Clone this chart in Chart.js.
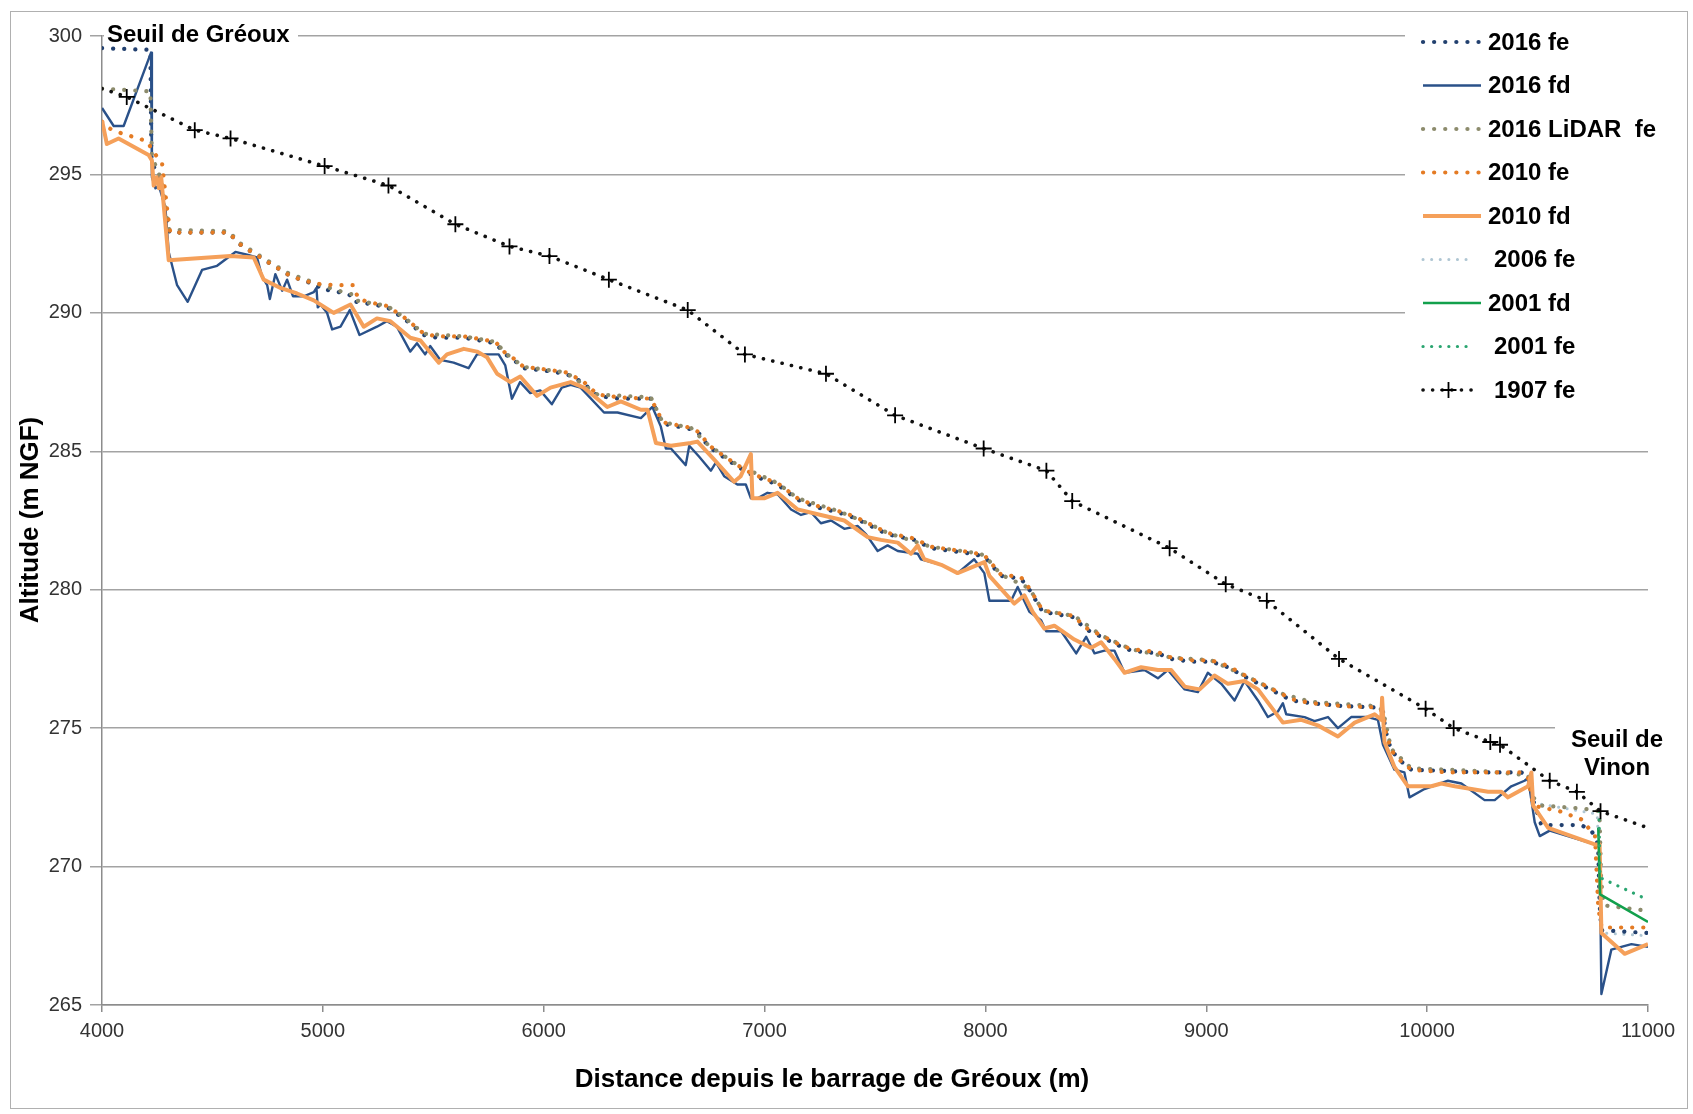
<!DOCTYPE html>
<html>
<head>
<meta charset="utf-8">
<script src="https://cdn.jsdelivr.net/npm/chart.js@4.4.1/dist/chart.umd.min.js"></script>
<style>
html,body{margin:0;padding:0;background:#fff;}
#wrap{width:1693px;height:1114px;position:relative;}
canvas{display:block;}
</style>
</head>
<body>
<div id="wrap"><canvas id="c" width="1693" height="1114"></canvas></div>
<script>
// ---------------- DATA (distance m, altitude m NGF) ----------------
const seriesLabels = ['2016 fe','2016 fd','2016 LiDAR  fe','2010 fe','2010 fd','2006 fe','2001 fd','2001 fe','1907 fe'];
const xTickLabels = ['4000','5000','6000','7000','8000','9000','10000','11000'];
const yTickLabels = ['265','270','275','280','285','290','295','300'];
const annotationTexts = ['Seuil de Gréoux', 'Seuil de', 'Vinon'];
const xTitle = 'Distance depuis le barrage de Gréoux (m)';
const yTitle = 'Altitude (m NGF)';

const fe2016 = [[4000,299.56],[4219,299.5],[4224,295.4],[4250,295.1],[4272,294.6],[4290,293.5],[4305,292.9],[4430,292.9],[4574,292.9],[4619,292.5],[4657,292.3],[4717,292.0],[4778,291.7],[4838,291.4],[4898,291.2],[4974,291.0],[4989,290.85],[5049,290.8],[5140,290.6],[5148,290.4],[5231,290.3],[5291,290.2],[5328,290.0],[5366,289.8],[5412,289.5],[5457,289.2],[5517,289.1],[5638,289.1],[5714,289.0],[5782,288.9],[5826,288.5],[5864,288.3],[5909,288.0],[6015,287.9],[6100,287.8],[6175,287.5],[6243,287.0],[6340,286.9],[6485,286.9],[6515,286.4],[6538,286.0],[6666,285.8],[6711,285.6],[6742,285.2],[6794,284.9],[6877,284.45],[6953,284.1],[7059,283.8],[7150,283.25],[7225,283.0],[7331,282.8],[7406,282.6],[7482,282.3],[7557,282.0],[7678,281.8],[7754,281.5],[7845,281.4],[7936,281.3],[7995,281.2],[8070,280.5],[8161,280.4],[8199,280.0],[8259,279.2],[8403,279.0],[8448,278.6],[8524,278.3],[8599,278.0],[8660,277.8],[8781,277.7],[8841,277.5],[8932,277.4],[9022,277.4],[9098,277.2],[9188,276.8],[9264,276.5],[9339,276.2],[9385,276.0],[9475,275.9],[9611,275.8],[9762,275.75],[9800,275.6],[9812,274.9],[9837,274.2],[9882,273.8],[9928,273.5],[10094,273.45],[10245,273.4],[10427,273.4],[10457,273.2],[10480,272.4],[10517,271.5],[10698,271.5],[10744,271.3],[10774,270.8],[10781,268.6],[10789,267.7],[11000,267.6]];

const fd2016 = [[4000,297.4],[4053,296.75],[4098,296.75],[4222,299.4],[4226,294.9],[4242,294.5],[4257,294.6],[4287,293.8],[4302,292.2],[4340,291.0],[4388,290.4],[4453,291.55],[4521,291.7],[4604,292.2],[4657,292.1],[4702,292.0],[4725,291.3],[4748,291.0],[4760,290.5],[4785,291.4],[4816,290.8],[4838,291.2],[4865,290.6],[4914,290.6],[4959,290.75],[4971,290.9],[4977,290.2],[4989,290.3],[5019,290.0],[5042,289.4],[5080,289.5],[5122,290.1],[5166,289.2],[5245,289.5],[5290,289.7],[5335,289.5],[5396,288.6],[5426,288.9],[5463,288.5],[5486,288.8],[5532,288.3],[5592,288.2],[5660,288.0],[5698,288.5],[5758,288.5],[5796,288.5],[5826,288.1],[5856,286.9],[5893,287.5],[5939,287.1],[5984,287.2],[6037,286.7],[6082,287.3],[6122,287.4],[6167,287.3],[6273,286.4],[6334,286.4],[6440,286.2],[6492,286.6],[6530,285.9],[6553,285.1],[6576,285.1],[6643,284.5],[6659,285.2],[6704,284.8],[6757,284.3],[6780,284.6],[6817,284.1],[6877,283.8],[6915,283.8],[6938,283.3],[6968,283.3],[7013,283.5],[7059,283.45],[7120,282.9],[7165,282.7],[7210,282.8],[7255,282.4],[7301,282.5],[7361,282.2],[7422,282.3],[7460,282.0],[7512,281.4],[7557,281.6],[7603,281.4],[7693,281.3],[7708,281.1],[7800,280.9],[7874,280.6],[7949,281.1],[7995,280.6],[8018,279.6],[8116,279.6],[8146,280.1],[8199,279.2],[8252,278.9],[8275,278.5],[8343,278.5],[8411,277.7],[8456,278.3],[8494,277.7],[8539,277.8],[8584,277.8],[8630,277.0],[8720,277.1],[8781,276.8],[8826,277.1],[8902,276.4],[8962,276.3],[9007,277.0],[9068,276.6],[9128,276.0],[9173,276.7],[9234,276.0],[9279,275.4],[9324,275.6],[9347,275.9],[9362,275.5],[9445,275.4],[9490,275.25],[9551,275.4],[9596,275.0],[9656,275.4],[9732,275.4],[9777,275.3],[9800,274.4],[9852,273.5],[9897,273.4],[9920,272.5],[9988,272.8],[10094,273.1],[10155,273.0],[10260,272.4],[10306,272.4],[10381,272.9],[10441,273.1],[10457,273.2],[10487,271.6],[10510,271.1],[10555,271.3],[10759,270.8],[10781,270.7],[10789,265.4],[10834,267.0],[10925,267.2],[11000,267.1]];

const lidar2016 = [[4000,298.1],[4219,298.0],[4226,295.6],[4250,295.2],[4272,294.7],[4290,293.6],[4305,293.0],[4574,292.95],[4619,292.55],[4717,292.05],[4838,291.45],[4974,291.05],[5049,290.85],[5140,290.65],[5148,290.45],[5291,290.25],[5366,289.85],[5457,289.25],[5638,289.15],[5782,288.95],[5826,288.55],[5909,288.05],[6100,287.85],[6243,287.05],[6485,286.95],[6538,286.05],[6666,285.85],[6742,285.25],[6877,284.5],[7059,283.85],[7150,283.3],[7331,282.85],[7482,282.35],[7557,282.05],[7754,281.55],[7936,281.35],[7995,281.25],[8070,280.55],[8199,280.05],[8259,279.25],[8403,279.05],[8524,278.35],[8660,277.85],[8841,277.55],[9022,277.45],[9188,276.85],[9339,276.25],[9475,275.95],[9762,275.8],[9800,275.65],[9837,274.25],[9928,273.55],[10245,273.45],[10457,273.3],[10480,272.5],[10520,272.2],[10700,272.1],[10780,272.0],[10788,269.5],[10800,268.6],[11000,268.4]];

const fe2010 = [[4000,296.9],[4022,296.7],[4083,296.5],[4204,296.2],[4234,295.8],[4272,295.4],[4294,293.8],[4309,292.9],[4574,292.9],[4620,292.5],[4657,292.3],[4717,292.0],[4778,291.7],[4838,291.4],[4898,291.2],[4974,291.05],[5049,291.0],[5140,291.0],[5160,290.5],[5231,290.35],[5291,290.25],[5328,290.05],[5366,289.85],[5412,289.55],[5457,289.25],[5517,289.15],[5638,289.15],[5714,289.05],[5782,288.95],[5826,288.55],[5864,288.35],[5909,288.05],[6015,287.95],[6100,287.85],[6175,287.55],[6243,287.05],[6340,286.95],[6485,286.9],[6515,286.45],[6538,286.05],[6666,285.85],[6711,285.65],[6742,285.25],[6794,284.95],[6877,284.5],[6953,284.15],[7059,283.85],[7150,283.3],[7225,283.05],[7331,282.85],[7406,282.65],[7482,282.35],[7557,282.05],[7678,281.85],[7754,281.55],[7845,281.45],[7936,281.35],[7995,281.25],[8070,280.55],[8161,280.45],[8199,280.05],[8259,279.25],[8403,279.05],[8448,278.65],[8524,278.35],[8599,278.05],[8660,277.85],[8781,277.75],[8841,277.55],[8932,277.45],[9022,277.45],[9098,277.25],[9188,276.85],[9264,276.55],[9339,276.25],[9385,276.05],[9475,275.9],[9611,275.8],[9762,275.75],[9800,275.6],[9812,274.9],[9837,274.2],[9882,273.8],[9928,273.5],[10094,273.4],[10245,273.4],[10427,273.4],[10457,273.2],[10480,272.2],[10600,272.0],[10700,271.7],[10760,271.1],[10775,268.5],[10790,267.8],[11000,267.8]];

const fd2010 = [[4000,296.95],[4022,296.1],[4075,296.3],[4211,295.7],[4226,295.5],[4234,294.6],[4248,294.9],[4258,294.5],[4268,294.9],[4302,291.9],[4581,292.05],[4687,292.0],[4732,291.2],[4808,290.9],[4883,290.7],[4959,290.45],[5049,290.0],[5125,290.3],[5185,289.5],[5245,289.8],[5306,289.7],[5351,289.4],[5396,289.1],[5442,289.0],[5525,288.2],[5562,288.5],[5638,288.7],[5698,288.6],[5743,288.4],[5789,287.8],[5849,287.5],[5894,287.7],[5970,287.0],[6031,287.3],[6122,287.5],[6182,287.3],[6288,286.6],[6349,286.8],[6440,286.5],[6470,286.5],[6508,285.3],[6576,285.2],[6666,285.3],[6696,285.35],[6772,284.7],[6862,283.9],[6892,284.1],[6938,284.9],[6945,283.3],[6998,283.3],[7059,283.5],[7150,282.9],[7255,282.7],[7361,282.5],[7467,281.9],[7527,281.8],[7603,281.7],[7663,281.3],[7693,281.6],[7723,281.1],[7800,280.9],[7874,280.6],[7995,281.0],[8018,280.5],[8131,279.5],[8176,279.8],[8214,279.2],[8267,278.6],[8312,278.7],[8403,278.2],[8479,277.9],[8524,278.1],[8584,277.5],[8630,277.0],[8705,277.2],[8781,277.1],[8841,277.1],[8902,276.5],[8970,276.4],[9037,276.9],[9098,276.6],[9173,276.7],[9234,276.4],[9347,275.2],[9430,275.3],[9505,275.1],[9596,274.7],[9672,275.2],[9762,275.5],[9792,275.3],[9796,276.1],[9807,274.5],[9852,273.6],[9913,272.9],[10019,272.9],[10064,273.0],[10125,272.9],[10276,272.7],[10336,272.7],[10366,272.5],[10457,272.9],[10472,273.4],[10480,272.2],[10548,271.4],[10759,270.8],[10781,270.8],[10789,267.6],[10894,266.85],[11000,267.2]];

const fe2006 = [[10480,272.3],[10770,271.9],[10790,267.6],[11000,267.5]];
const fd2001 = [[10775,271.4],[10783,269.0],[11000,268.0]];
const fe2001 = [[10778,272.0],[10783,269.6],[11000,268.8]];

const fe1907 = [[4000,298.1],[4112,297.8],[4420,296.6],[4582,296.3],[5008,295.3],[5297,294.6],[5600,293.2],[5845,292.4],[6026,292.05],[6295,291.2],[6652,290.1],[6911,288.5],[7278,287.8],[7591,286.3],[7992,285.1],[8276,284.3],[8393,283.2],[8834,281.5],[9088,280.2],[9274,279.6],[9601,277.5],[9993,275.7],[10120,275.0],[10286,274.5],[10330,274.4],[10555,273.1],[10678,272.7],[10785,272.0],[11000,271.4]];
const fe1907Markers = [0,1,1,1,1,1,1,1,1,1,1,1,1,1,1,1,1,1,1,1,1,1,1,1,1,1,1,1,0];

// ---------------- CHART ----------------
const pts = arr => arr.map(p => ({x: p[0], y: p[1]}));
const FONT = "'Liberation Sans', Arial, sans-serif";
const TICKFONT = "'Liberation Sans Narrow', 'Liberation Sans', Arial, sans-serif";

function lineDs(label, data, color, width, dotted, order, gap) {
  return {
    label, data: pts(data), showLine: true, borderColor: color, backgroundColor: color,
    borderWidth: width, borderDash: dotted ? [0.1, gap || 11] : [], borderCapStyle: dotted ? 'round' : 'butt',
    borderJoinStyle: 'round', pointRadius: 0, pointHoverRadius: 0, tension: 0, order, _short: false
  };
}

const datasets = [
  lineDs(seriesLabels[0], fe2016, '#22406F', 4.2, true, 8),
  lineDs(seriesLabels[1], fd2016, '#2A5189', 2.4, false, 7),
  lineDs(seriesLabels[2], lidar2016, '#8C8B6C', 4.2, true, 6),
  lineDs(seriesLabels[3], fe2010, '#E47B24', 4.2, true, 5),
  lineDs(seriesLabels[4], fd2010, '#F5A05A', 4, false, 4),
  lineDs(seriesLabels[5], fe2006, '#AFC6D3', 3, true, 9, 8.5),
  lineDs(seriesLabels[6], fd2001, '#12A04C', 2.6, false, 2),
  lineDs(seriesLabels[7], fe2001, '#2AA570', 3.2, true, 1, 8.5),
  Object.assign(lineDs(seriesLabels[8], fe1907, '#111111', 3.6, true, 0, 9.5), {
    pointStyle: 'cross', pointRadius: fe1907Markers.map(m => m ? 8 : 0),
    pointBorderColor: '#000', pointBorderWidth: 1.8
  })
];
datasets[5]._short = true; datasets[7]._short = true; datasets[8]._short = true;

const overlay = {
  id: 'overlay',
  beforeDatasetsDraw(chart) {
    const ctx = chart.ctx;
    ctx.save();
    ctx.fillStyle = '#fff';
    ctx.fillRect(104, 20, 194, 27);     // behind "Seuil de Gréoux"
    ctx.fillRect(1555, 721, 125, 60);   // behind "Seuil de Vinon"
    ctx.fillRect(1405, 13, 280, 400);   // legend box
    ctx.restore();
  },
  afterDraw(chart) {
    const ctx = chart.ctx;
    ctx.save();
    // annotations
    ctx.fillStyle = '#000';
    ctx.font = 'bold 24px ' + FONT;
    ctx.textBaseline = 'alphabetic';
    ctx.textAlign = 'left';
    ctx.fillText(annotationTexts[0], 107, 42);
    ctx.textAlign = 'center';
    ctx.fillText(annotationTexts[1], 1617, 747);
    ctx.fillText(annotationTexts[2], 1617, 775);
    // axis titles
    ctx.font = 'bold 26px ' + FONT;
    ctx.textAlign = 'center';
    ctx.textBaseline = 'middle';
    ctx.fillText(xTitle, 832, 1080);
    ctx.save();
    ctx.translate(31, 520);
    ctx.rotate(-Math.PI / 2);
    ctx.fillText(yTitle, 0, 0);
    ctx.restore();
    // legend
    chart.data.datasets.forEach((ds, i) => {
      const y = 42 + i * 43.5;
      const x1 = 1423, x2 = ds._short ? 1474 : 1481;
      ctx.save();
      ctx.strokeStyle = ds.borderColor;
      ctx.lineWidth = ds.borderWidth;
      ctx.lineCap = ds.borderCapStyle;
      ctx.setLineDash(ds.borderDash);
      ctx.beginPath();
      ctx.moveTo(x1, y); ctx.lineTo(x2, y);
      ctx.stroke();
      if (ds.pointStyle === 'cross') {
        ctx.setLineDash([]);
        ctx.lineWidth = 1.8; ctx.strokeStyle = '#000'; ctx.lineCap = 'butt';
        const cx = (x1 + x2) / 2;
        ctx.beginPath();
        ctx.moveTo(cx - 8, y); ctx.lineTo(cx + 8, y);
        ctx.moveTo(cx, y - 8); ctx.lineTo(cx, y + 8);
        ctx.stroke();
      }
      ctx.restore();
      ctx.fillStyle = '#000';
      ctx.font = 'bold 24px ' + FONT;
      ctx.textAlign = 'left';
      ctx.textBaseline = 'middle';
      ctx.fillText(ds.label, ds._short ? 1494 : 1488, y + 1);
    });
    // outer border
    ctx.strokeStyle = '#B0B0B0';
    ctx.lineWidth = 1;
    ctx.strokeRect(10.5, 11.5, 1677, 1097);
    ctx.restore();
  }
};

new Chart(document.getElementById('c'), {
  type: 'scatter',
  data: { datasets },
  options: {
    responsive: false, animation: false, devicePixelRatio: 1,
    layout: { padding: { left: 12, top: 36, right: 45, bottom: 10 } },
    plugins: { legend: { display: false }, tooltip: { enabled: false } },
    events: [],
    scales: {
      x: {
        type: 'linear', min: 4000, max: 11000,
        afterFit: s => { s.height = 99; },
        afterBuildTicks: s => { s.ticks = xTickLabels.map(t => ({ value: Number(t) })); },
        ticks: { callback: (v) => xTickLabels[xTickLabels.indexOf(String(v))], color: '#333333',
                 font: { family: TICKFONT, size: 20 }, padding: 7, maxRotation: 0, autoSkip: false },
        grid: { drawOnChartArea: false, drawTicks: true, tickLength: 7, color: '#8C8C8C', lineWidth: 1.5 },
        border: { display: true, color: '#8C8C8C', width: 1.5 }
      },
      y: {
        type: 'linear', min: 265, max: 300,
        afterFit: s => { s.width = 90; },
        afterBuildTicks: s => { s.ticks = yTickLabels.map(t => ({ value: Number(t) })); },
        ticks: { callback: (v) => yTickLabels[yTickLabels.indexOf(String(v))], color: '#333333',
                 font: { family: TICKFONT, size: 20 }, padding: 8 },
        grid: { color: '#A3A3A3', lineWidth: 1.5, tickLength: 12 },
        border: { display: true, color: '#8C8C8C', width: 1.5 }
      }
    }
  },
  plugins: [overlay]
});
</script>
</body>
</html>
